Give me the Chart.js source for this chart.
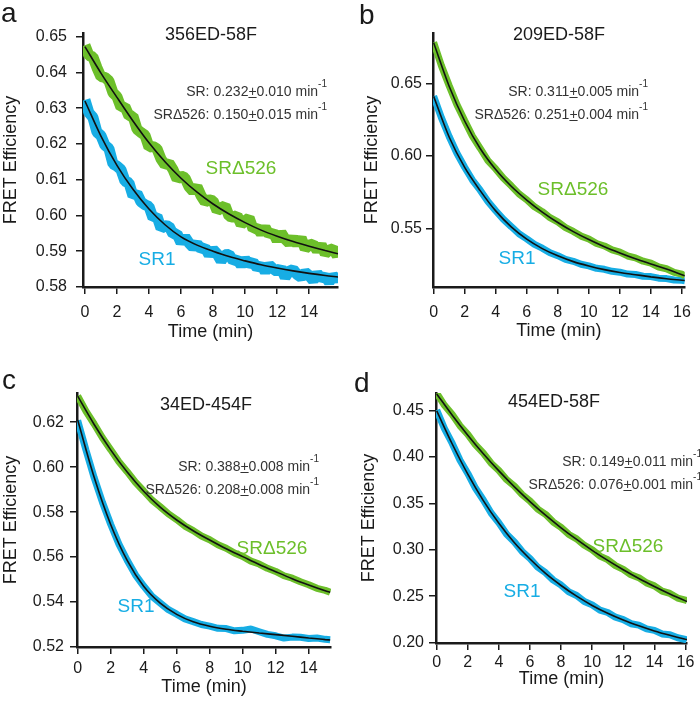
<!DOCTYPE html>
<html>
<head>
<meta charset="utf-8">
<script src="https://cdn.jsdelivr.net/npm/chart.js@4.4.0/dist/chart.umd.min.js"></script>
<style>
    body { margin: 0; background: #fff; }
    #wrap { position: relative; width: 700px; height: 702px; overflow: hidden; font-family: "Liberation Sans", Arial, Helvetica, sans-serif; color: #1a1a1a; }
    canvas { position: absolute; }
    .t { position: absolute; white-space: nowrap; line-height: 1; }
    .letter { font-size: 28px; }
    .title { font-size: 18px; transform: translate(-50%, -50%); }
    .rate { font-size: 14px; color: #333; transform: translateY(-50%); text-align: right; }
    .rate sup { font-size: 10px; vertical-align: 9px; line-height: 0; }
    .rate u { text-decoration-thickness: 1px; text-underline-offset: 1px; }
    .series { font-size: 19px; transform: translate(-50%, -50%); }
</style>
</head>
<body>
<div id="wrap">
    <canvas id="cvA" width="350" height="345" style="left:0;top:0"></canvas>
    <canvas id="cvB" width="350" height="345" style="left:350px;top:0"></canvas>
    <canvas id="cvC" width="350" height="357" style="left:0;top:345px"></canvas>
    <canvas id="cvD" width="350" height="357" style="left:350px;top:345px"></canvas>

    <div class="t letter" style="left:1px;top:-1px">a</div>
    <div class="t letter" style="left:359px;top:1px">b</div>
    <div class="t letter" style="left:2px;top:366px">c</div>
    <div class="t letter" style="left:354px;top:369px">d</div>

    <div class="t title" style="left:211px;top:34px">356ED-58F</div>
    <div class="t title" style="left:559px;top:34px">209ED-58F</div>
    <div class="t title" style="left:206px;top:404px">34ED-454F</div>
    <div class="t title" style="left:554px;top:401px">454ED-58F</div>

    <div class="t rate" style="right:373px;top:91px">SR: 0.232<u>+</u>0.010 min<sup>-1</sup></div>
    <div class="t rate" style="right:373px;top:114px">SRΔ526: 0.150<u>+</u>0.015 min<sup>-1</sup></div>
    <div class="t rate" style="right:52px;top:91px">SR: 0.311<u>+</u>0.005 min<sup>-1</sup></div>
    <div class="t rate" style="right:52px;top:114px">SRΔ526: 0.251<u>+</u>0.004 min<sup>-1</sup></div>
    <div class="t rate" style="right:381px;top:466px">SR: 0.388<u>+</u>0.008 min<sup>-1</sup></div>
    <div class="t rate" style="right:381px;top:489px">SRΔ526: 0.208<u>+</u>0.008 min<sup>-1</sup></div>
    <div class="t rate" style="right:-2px;top:461px">SR: 0.149<u>+</u>0.011 min<sup>-1</sup></div>
    <div class="t rate" style="right:-2px;top:484px">SRΔ526: 0.076<u>+</u>0.001 min<sup>-1</sup></div>

    <div class="t series" style="left:241px;top:167px;color:#6cbf2a">SRΔ526</div>
    <div class="t series" style="left:157px;top:258px;color:#17ade4">SR1</div>
    <div class="t series" style="left:573px;top:188px;color:#6cbf2a">SRΔ526</div>
    <div class="t series" style="left:517px;top:257px;color:#17ade4">SR1</div>
    <div class="t series" style="left:272px;top:547px;color:#6cbf2a">SRΔ526</div>
    <div class="t series" style="left:136px;top:605px;color:#17ade4">SR1</div>
    <div class="t series" style="left:628px;top:545px;color:#6cbf2a">SRΔ526</div>
    <div class="t series" style="left:522px;top:590px;color:#17ade4">SR1</div>
</div>

<script>
    "use strict";

    /* ---------------- Data: panel a (356ED-58F) ---------------- */
    const A_TIME = [0, 0.25, 0.5, 0.75, 1, 1.25, 1.5, 1.75, 2, 2.25, 2.5, 2.75, 3, 3.25, 3.5, 3.75, 4, 4.25, 4.5, 4.75, 5, 5.25, 5.5, 5.75, 6, 6.25, 6.5, 6.75, 7, 7.25, 7.5, 7.75, 8, 8.25, 8.5, 8.75, 9, 9.25, 9.5, 9.75, 10, 10.25, 10.5, 10.75, 11, 11.25, 11.5, 11.75, 12, 12.25, 12.5, 12.75, 13, 13.25, 13.5, 13.75, 14, 14.25, 14.5, 14.75, 15, 15.25, 15.5, 15.75, 15.8];
    const A_SR1 = [0.6323, 0.6287, 0.6274, 0.6233, 0.6223, 0.6196, 0.6187, 0.6144, 0.6138, 0.6128, 0.6096, 0.6091, 0.6055, 0.6062, 0.6038, 0.6030, 0.6025, 0.5993, 0.5998, 0.5964, 0.5971, 0.5970, 0.5948, 0.5949, 0.5924, 0.5940, 0.5923, 0.5911, 0.5921, 0.5906, 0.5910, 0.5890, 0.5905, 0.5893, 0.5873, 0.5890, 0.5891, 0.5873, 0.5877, 0.5861, 0.5877, 0.5864, 0.5870, 0.5853, 0.5861, 0.5843, 0.5862, 0.5851, 0.5843, 0.5853, 0.5827, 0.5844, 0.5849, 0.5835, 0.5827, 0.5841, 0.5832, 0.5818, 0.5838, 0.5824, 0.5830, 0.5814, 0.5831, 0.5821, 0.5824];
    const A_SRD = [0.6476, 0.6447, 0.6443, 0.6413, 0.6388, 0.6386, 0.6376, 0.6343, 0.6332, 0.6302, 0.6304, 0.6278, 0.6278, 0.6241, 0.6232, 0.6224, 0.6191, 0.6193, 0.6186, 0.6158, 0.6141, 0.6146, 0.6128, 0.6102, 0.6110, 0.6105, 0.6080, 0.6068, 0.6080, 0.6055, 0.6038, 0.6044, 0.6041, 0.6013, 0.6021, 0.6027, 0.5998, 0.5995, 0.6000, 0.5975, 0.5985, 0.5993, 0.5962, 0.5966, 0.5950, 0.5967, 0.5946, 0.5953, 0.5930, 0.5952, 0.5934, 0.5923, 0.5937, 0.5919, 0.5937, 0.5907, 0.5917, 0.5920, 0.5902, 0.5918, 0.5893, 0.5903, 0.5907, 0.5887, 0.5899];
    const A_FIT_TIME = [0, 1, 2, 3, 4, 5, 6, 7, 8, 9, 10, 11, 12, 13, 14, 15, 15.8];
    const A_SR1_FIT = [0.6320, 0.6222, 0.6140, 0.6073, 0.6018, 0.5974, 0.5940, 0.5917, 0.5900, 0.5885, 0.5873, 0.5862, 0.5853, 0.5845, 0.5838, 0.5832, 0.5828];
    const A_SRD_FIT = [0.6472, 0.6398, 0.6330, 0.6264, 0.6203, 0.6150, 0.6104, 0.6065, 0.6032, 0.6004, 0.5980, 0.5959, 0.5942, 0.5927, 0.5914, 0.5902, 0.5893];
    const A_YTICKS = [0.58, 0.59, 0.60, 0.61, 0.62, 0.63, 0.64, 0.65];
    const A_XTICKS = [0, 2, 4, 6, 8, 10, 12, 14];

    /* ---------------- Data: panel b (209ED-58F) ---------------- */
    const B_TIME = [0, 0.5, 1, 1.5, 2, 2.5, 3, 3.5, 4, 4.5, 5, 5.5, 6, 6.5, 7, 7.5, 8, 8.5, 9, 9.5, 10, 10.5, 11, 11.5, 12, 12.5, 13, 13.5, 14, 14.5, 15, 15.5, 16, 16.2];
    const B_SR1 = [0.6412, 0.6263, 0.6133, 0.6018, 0.5921, 0.5833, 0.5763, 0.5685, 0.5621, 0.5561, 0.5512, 0.5462, 0.5427, 0.5389, 0.5363, 0.5331, 0.5311, 0.5286, 0.5272, 0.5252, 0.5241, 0.5224, 0.5217, 0.5203, 0.5197, 0.5184, 0.5181, 0.5169, 0.5167, 0.5156, 0.5153, 0.5143, 0.5141, 0.5137];
    const B_SRD = [0.6783, 0.6622, 0.6484, 0.6353, 0.6243, 0.6136, 0.6052, 0.5967, 0.5909, 0.5845, 0.5793, 0.5737, 0.5697, 0.5648, 0.5615, 0.5573, 0.5544, 0.5505, 0.5478, 0.5446, 0.5426, 0.5395, 0.5378, 0.5351, 0.5335, 0.5309, 0.5296, 0.5273, 0.5259, 0.5233, 0.5221, 0.5196, 0.5184, 0.5170];
    const B_FIT_TIME = [0, 1, 2, 3, 4, 5, 6, 7, 8, 9, 10, 11, 12, 13, 14, 15, 16, 16.2];
    const B_SR1_FIT = [0.641, 0.613, 0.592, 0.576, 0.562, 0.551, 0.5425, 0.536, 0.531, 0.527, 0.524, 0.5215, 0.5195, 0.518, 0.5165, 0.5152, 0.5142, 0.514];
    const B_SRD_FIT = [0.678, 0.648, 0.624, 0.605, 0.5905, 0.5790, 0.5695, 0.5612, 0.5540, 0.5477, 0.5422, 0.5373, 0.5330, 0.5290, 0.5254, 0.5219, 0.5180, 0.5172];
    const B_YTICKS = [0.55, 0.60, 0.65];
    const B_XTICKS = [0, 2, 4, 6, 8, 10, 12, 14, 16];

    /* ---------------- Data: panel c (34ED-454F) ---------------- */
    const C_TIME = [0, 0.5, 1, 1.5, 2, 2.5, 3, 3.5, 4, 4.5, 5, 5.5, 6, 6.5, 7, 7.5, 8, 8.5, 9, 9.5, 10, 10.5, 11, 11.5, 12, 12.5, 13, 13.5, 14, 14.5, 15, 15.3];
    const C_SR1 = [0.6208, 0.6077, 0.5953, 0.5844, 0.5746, 0.5658, 0.5586, 0.5521, 0.5471, 0.5426, 0.5396, 0.5366, 0.5346, 0.5325, 0.5313, 0.5300, 0.5293, 0.5283, 0.5282, 0.5272, 0.5274, 0.5280, 0.5268, 0.5256, 0.5250, 0.5240, 0.5244, 0.5243, 0.5238, 0.5240, 0.5234, 0.5232];
    const C_SRD = [0.6317, 0.6249, 0.6192, 0.6131, 0.6078, 0.6024, 0.5980, 0.5933, 0.5894, 0.5854, 0.5824, 0.5792, 0.5767, 0.5738, 0.5718, 0.5694, 0.5677, 0.5655, 0.5639, 0.5618, 0.5603, 0.5582, 0.5569, 0.5550, 0.5536, 0.5517, 0.5506, 0.5490, 0.5477, 0.5461, 0.5452, 0.5444];
    const C_FIT_TIME = [0, 1, 2, 3, 4, 5, 6, 7, 8, 9, 10, 11, 12, 13, 14, 15, 15.3];
    const C_SR1_FIT = [0.6210, 0.5955, 0.5745, 0.5585, 0.5470, 0.5395, 0.5345, 0.5312, 0.5292, 0.5279, 0.5270, 0.5262, 0.5255, 0.5248, 0.5240, 0.5233, 0.5231];
    const C_SRD_FIT = [0.6316, 0.6190, 0.6077, 0.5978, 0.5893, 0.5822, 0.5765, 0.5717, 0.5676, 0.5637, 0.5602, 0.5567, 0.5535, 0.5504, 0.5476, 0.5450, 0.5443];
    const C_YTICKS = [0.52, 0.54, 0.56, 0.58, 0.60, 0.62];
    const C_XTICKS = [0, 2, 4, 6, 8, 10, 12, 14];

    /* ---------------- Data: panel d (454ED-58F) ---------------- */
    const D_TIME = [0, 0.5, 1, 1.5, 2, 2.5, 3, 3.5, 4, 4.5, 5, 5.5, 6, 6.5, 7, 7.5, 8, 8.5, 9, 9.5, 10, 10.5, 11, 11.5, 12, 12.5, 13, 13.5, 14, 14.5, 15, 15.5, 16, 16.1];
    const D_SR1 = [0.4506, 0.4307, 0.4146, 0.3965, 0.3823, 0.3663, 0.3537, 0.3396, 0.3290, 0.3167, 0.3084, 0.2981, 0.2906, 0.2812, 0.2753, 0.2673, 0.2620, 0.2547, 0.2507, 0.2443, 0.2406, 0.2350, 0.2324, 0.2273, 0.2247, 0.2203, 0.2188, 0.2148, 0.2131, 0.2093, 0.2085, 0.2052, 0.2033, 0.2025];
    const D_SRD = [0.4688, 0.4557, 0.4457, 0.4336, 0.4244, 0.4130, 0.4041, 0.3933, 0.3855, 0.3756, 0.3686, 0.3595, 0.3526, 0.3439, 0.3382, 0.3299, 0.3241, 0.3165, 0.3118, 0.3048, 0.3000, 0.2932, 0.2893, 0.2829, 0.2789, 0.2730, 0.2699, 0.2643, 0.2611, 0.2555, 0.2529, 0.2480, 0.2457, 0.2452];
    const D_FIT_TIME = [0, 1, 2, 3, 4, 5, 6, 7, 8, 9, 10, 11, 12, 13, 14, 15, 16, 16.1];
    const D_SR1_FIT = [0.4497, 0.4140, 0.3815, 0.3530, 0.3285, 0.3075, 0.2900, 0.2745, 0.2615, 0.2500, 0.2400, 0.2315, 0.2242, 0.2180, 0.2125, 0.2078, 0.2035, 0.2031];
    const D_SRD_FIT = [0.4680, 0.4450, 0.4235, 0.4035, 0.3850, 0.3678, 0.3520, 0.3373, 0.3237, 0.3111, 0.2994, 0.2885, 0.2784, 0.2690, 0.2604, 0.2523, 0.2449, 0.2442];
    const D_YTICKS = [0.20, 0.25, 0.30, 0.35, 0.40, 0.45];
    const D_XTICKS = [0, 2, 4, 6, 8, 10, 12, 14, 16];

    /* ---------------- Style ---------------- */
    const BLUE = "#17ade4";
    const GREEN = "#6cbf2a";
    const FIT = "#111111";
    const INK = "#1a1a1a";

    Chart.defaults.font.family = '"Liberation Sans", Arial, Helvetica, sans-serif';
    Chart.defaults.color = INK;

    function pts(xs, ys) {
        return xs.map((x, i) => ({ x, y: ys[i] }));
    }

    function makePanel(id, d, L) {
        const canvas = document.getElementById(id);
        if (!canvas) return;

        new Chart(canvas.getContext("2d"), {
            type: "line",
            data: {
                datasets: [
                    { data: pts(d.time, d.sr1), borderColor: BLUE, borderWidth: L.band, order: 3 },
                    { data: pts(d.time, d.srd), borderColor: GREEN, borderWidth: L.band, order: 2 },
                    { data: pts(d.fitTime, d.sr1Fit), borderColor: FIT, borderWidth: 1.6, cubicInterpolationMode: "monotone", order: 1 },
                    { data: pts(d.fitTime, d.srdFit), borderColor: FIT, borderWidth: 1.6, cubicInterpolationMode: "monotone", order: 0 }
                ]
            },
            options: {
                responsive: false,
                animation: false,
                devicePixelRatio: 1,
                events: [],
                elements: {
                    point: { radius: 0 },
                    line: { tension: 0, borderJoinStyle: "bevel", fill: false }
                },
                plugins: { legend: { display: false }, tooltip: { enabled: false } },
                layout: { padding: { top: L.top, right: L.right, bottom: 0, left: 0 } },
                scales: {
                    x: {
                        type: "linear",
                        min: L.xMin,
                        max: L.xMax,
                        afterBuildTicks: (s) => { s.ticks = d.xTicks.map(v => ({ value: v })); },
                        afterFit: (s) => { s.height = L.xHeight; },
                        grid: { drawOnChartArea: false, tickLength: 7, color: INK, lineWidth: 1.5 },
                        border: { color: INK, width: 2.5 },
                        ticks: { font: { size: 16 }, color: INK, padding: L.xPad, maxRotation: 0, autoSkip: false, callback: (v) => String(v) },
                        title: { display: true, text: "Time (min)", font: { size: 18 }, color: INK, padding: { top: 0, bottom: L.xTitlePad } }
                    },
                    y: {
                        type: "linear",
                        min: L.yMin,
                        max: L.yMax,
                        afterBuildTicks: (s) => { s.ticks = d.yTicks.map(v => ({ value: v })); },
                        afterFit: (s) => { s.width = L.yWidth; },
                        grid: { drawOnChartArea: false, tickLength: 7, color: INK, lineWidth: 1.5 },
                        border: { color: INK, width: 2.5 },
                        ticks: { font: { size: 16 }, color: INK, padding: L.yPad, autoSkip: false, callback: (v) => Number(v).toFixed(2) },
                        title: { display: true, text: "FRET Efficiency", font: { size: 18 }, color: INK, padding: { top: L.yTitlePad, bottom: 0 } }
                    }
                }
            }
        });
    }

    makePanel("cvA",
        { time: A_TIME, sr1: A_SR1, srd: A_SRD, fitTime: A_FIT_TIME, sr1Fit: A_SR1_FIT, srdFit: A_SRD_FIT, xTicks: A_XTICKS, yTicks: A_YTICKS },
        { band: 11, top: 33, right: 12, xHeight: 58, yWidth: 83, xMin: -0.12, xMax: 15.8, yMin: 0.58, yMax: 0.651, xPad: 9, xTitlePad: 2, yPad: 9, yTitlePad: 0 });

    makePanel("cvB",
        { time: B_TIME, sr1: B_SR1, srd: B_SRD, fitTime: B_FIT_TIME, sr1Fit: B_SR1_FIT, srdFit: B_SRD_FIT, xTicks: B_XTICKS, yTicks: B_YTICKS },
        { band: 7, top: 33, right: 13, xHeight: 58, yWidth: 83, xMin: -0.04, xMax: 16.18, yMin: 0.5095, yMax: 0.6847, xPad: 9, xTitlePad: 3, yPad: 4, yTitlePad: 11 });

    makePanel("cvC",
        { time: C_TIME, sr1: C_SR1, srd: C_SRD, fitTime: C_FIT_TIME, sr1Fit: C_SR1_FIT, srdFit: C_SRD_FIT, xTicks: C_XTICKS, yTicks: C_YTICKS },
        { band: 7, top: 48, right: 19, xHeight: 55, yWidth: 77, xMin: -0.04, xMax: 15.35, yMin: 0.52, yMax: 0.633, xPad: 5, xTitlePad: 4, yPad: 6, yTitlePad: 0 });

    makePanel("cvD",
        { time: D_TIME, sr1: D_SR1, srd: D_SRD, fitTime: D_FIT_TIME, sr1Fit: D_SR1_FIT, srdFit: D_SRD_FIT, xTicks: D_XTICKS, yTicks: D_YTICKS },
        { band: 7, top: 48, right: 13, xHeight: 59, yWidth: 86, xMin: -0.045, xMax: 16.1, yMin: 0.1995, yMax: 0.469, xPad: 3, xTitlePad: 12, yPad: 5, yTitlePad: 8 });
</script>
</body>
</html>
